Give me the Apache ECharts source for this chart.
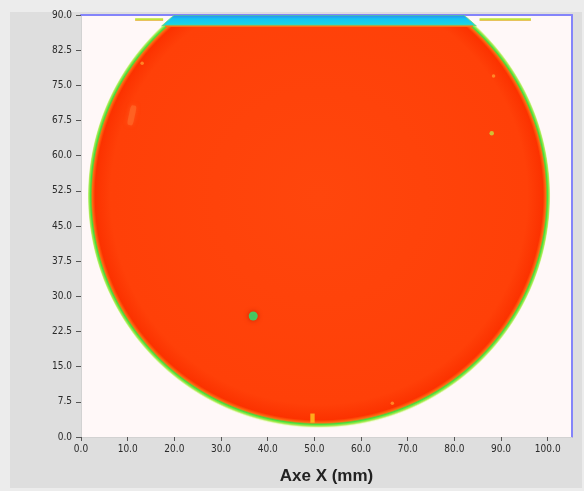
<!DOCTYPE html>
<html>
<head>
<meta charset="utf-8">
<script src="https://cdn.jsdelivr.net/npm/echarts@6/dist/echarts.min.js"></script>
<style>
  html, body { margin: 0; padding: 0; background: #ececec; }
  #chart { width: 584px; height: 491px; }
</style>
</head>
<body>
<div id="chart"></div>
<script>
// Wafer map geometry (mm)
const waferCenter = [51.0, 51.4];
const waferRadius = 49.5;
const flatY = 87.6;          // primary flat position
const mapTop = 90.0;         // upper limit of the scanned area

// Axis ranges and tick steps (mm)
const xRange = [0, 105.2];
const yRange = [0, 90];
const xStep = 10;
const yStep = 7.5;

// Thin marks on either side of the flat: [x0, x1, y]
const flatMarks = [
  [11.6, 17.6, 89.1],
  [85.4, 96.4, 89.1]
];

// Local defects: [x, y]
const defectGreen = [[36.9, 25.8]];
const defectBottom = [[49.6, 4.0]];
const defectStreak = [[10.9, 68.6]];
const defectSpecks = [[13.1, 79.7], [88.4, 77.0], [66.7, 7.2]];
const defectSpeckGreen = [[88.0, 64.8]];

const chart = echarts.init(document.getElementById('chart'));

function circleX(y, side) {
  const dy = y - waferCenter[1];
  return waferCenter[0] + side * Math.sqrt(Math.max(0, waferRadius * waferRadius - dy * dy));
}

function renderWafer(params, api) {
  const cx = api.value(0), cy = api.value(1), r = api.value(2), fy = api.value(3);
  const c = api.coord([cx, cy]);
  const rPx = api.size([r, r]);
  const rad = (rPx[0] + rPx[1]) / 2;

  // body: circle cut by the flat
  const body = [];
  for (let i = 0; i <= 360; i++) {
    const a = i * Math.PI / 180;
    const y = Math.min(cy + r * Math.sin(a), fy);
    body.push(api.coord([cx + r * Math.cos(a), y]));
  }
  // band between the flat and the top of the scan
  const band = [];
  const n = 24;
  for (let i = 0; i <= n; i++) {
    const y = fy + (mapTop - fy) * i / n;
    band.push(api.coord([circleX(y, -1), y]));
  }
  for (let i = n; i >= 0; i--) {
    const y = fy + (mapTop - fy) * i / n;
    band.push(api.coord([circleX(y, 1), y]));
  }
  const pTop = api.coord([cx, mapTop]);
  const pFlat = api.coord([cx, fy]);

  return {
    type: 'group',
    children: [
      {
        type: 'polygon',
        shape: { points: band },
        style: {
          fill: {
            type: 'linear', x: 0, y: pTop[1], x2: 0, y2: pFlat[1], global: true,
            colorStops: [
              { offset: 0, color: '#2f86f2' },
              { offset: 0.35, color: '#14c4f2' },
              { offset: 0.8, color: '#1ad2e6' },
              { offset: 1, color: '#5ede6a' }
            ]
          },
          stroke: '#6ee070', lineWidth: 1
        }
      },
      {
        type: 'polygon',
        shape: { points: body },
        style: {
          fill: {
            type: 'radial', x: c[0], y: c[1], r: rad, global: true,
            colorStops: [
              { offset: 0, color: '#ff460c' },
              { offset: 0.9, color: '#ff4008' },
              { offset: 0.967, color: '#fc3200' },
              { offset: 0.979, color: '#ff6a10' },
              { offset: 0.986, color: '#40e03c' },
              { offset: 0.994, color: '#a8ea50' },
              { offset: 1, color: '#f4fad8' }
            ]
          }
        }
      },
      {
        type: 'line',
        shape: {
          x1: api.coord([circleX(fy, -1) + 0.8, fy])[0], y1: pFlat[1],
          x2: api.coord([circleX(fy, 1) - 0.8, fy])[0], y2: pFlat[1]
        },
        style: { stroke: '#ff7014', lineWidth: 1.5 }
      }
    ]
  };
}

function renderFlatMark(params, api) {
  const a = api.coord([api.value(0), api.value(2)]);
  const b = api.coord([api.value(1), api.value(2)]);
  return {
    type: 'group',
    children: [
      { type: 'line', shape: { x1: a[0], y1: a[1] + 1, x2: b[0], y2: b[1] + 1 },
        style: { stroke: '#f0a030', lineWidth: 1 } },
      { type: 'line', shape: { x1: a[0], y1: a[1], x2: b[0], y2: b[1] },
        style: { stroke: '#bfe43a', lineWidth: 2 } }
    ]
  };
}

const labelFont = '"Liberation Sans Narrow", "DejaVu Sans Condensed", "Liberation Sans", sans-serif';

chart.setOption({
  backgroundColor: '#ececec',
  animation: false,
  graphic: [{
    type: 'rect', z: -10, silent: true,
    shape: { x: 10, y: 12, width: 572, height: 476 },
    style: { fill: '#dedede' }
  }],
  grid: {
    left: 81, right: 12, top: 15, bottom: 54,
    show: true, backgroundColor: '#fff8f8', borderWidth: 0
  },
  xAxis: [{
    type: 'value', min: xRange[0], max: xRange[1], interval: xStep,
    name: 'Axe X (mm)', nameLocation: 'middle', nameGap: 31,
    nameTextStyle: { fontFamily: 'Liberation Sans, Arial, sans-serif', fontWeight: 'bold', fontSize: 17, color: '#222' },
    axisLine: { show: true, onZero: false, lineStyle: { color: '#d2d2d2', width: 1 } },
    axisTick: { show: true, length: 4, lineStyle: { color: '#555' } },
    axisLabel: { margin: 7, fontFamily: labelFont, fontSize: 10, color: '#2a2a2a',
      formatter: v => v.toFixed(1) },
    splitLine: { show: false }
  }, {
    type: 'value', position: 'top', min: xRange[0], max: xRange[1],
    axisLine: { show: true, onZero: false, lineStyle: { color: '#8484fa', width: 2 } },
    axisTick: { show: false }, axisLabel: { show: false }, splitLine: { show: false }
  }],
  yAxis: [{
    type: 'value', min: yRange[0], max: yRange[1], interval: yStep,
    axisLine: { show: true, onZero: false, lineStyle: { color: '#d2d2d2', width: 1 } },
    axisTick: { show: true, length: 5, lineStyle: { color: '#555' } },
    axisLabel: { margin: 9, fontFamily: labelFont, fontSize: 10, color: '#2a2a2a',
      formatter: v => v.toFixed(1) },
    splitLine: { show: false }
  }, {
    type: 'value', position: 'right', min: yRange[0], max: yRange[1],
    axisLine: { show: true, onZero: false, lineStyle: { color: '#8484fa', width: 2 } },
    axisTick: { show: false }, axisLabel: { show: false }, splitLine: { show: false }
  }],
  series: [
    {
      type: 'custom', name: 'wafer', clip: true,
      renderItem: renderWafer,
      data: [[waferCenter[0], waferCenter[1], waferRadius, flatY]],
      z: 1
    },
    {
      type: 'custom', name: 'flat marks', clip: true,
      renderItem: renderFlatMark,
      data: flatMarks,
      z: 2
    },
    {
      type: 'scatter', data: defectStreak, symbol: 'roundRect',
      symbolSize: [6, 20], symbolRotate: -12, z: 3,
      itemStyle: { color: '#ff6a28', opacity: 0.7, shadowBlur: 4, shadowColor: '#ff5a20' }
    },
    {
      type: 'scatter', data: defectGreen, symbol: 'circle', symbolSize: 9, z: 3,
      itemStyle: { color: '#22ee78', borderWidth: 0, shadowBlur: 5, shadowColor: '#b81c00' }
    },
    {
      type: 'scatter', data: defectBottom, symbol: 'rect', symbolSize: [4, 9], z: 3,
      itemStyle: { color: '#ffc820', borderColor: '#ff9a20', borderWidth: 0.5 }
    },
    {
      type: 'scatter', data: defectSpecks, symbol: 'circle', symbolSize: 3.5, z: 3,
      itemStyle: { color: '#ff9a30' }
    },
    {
      type: 'scatter', data: defectSpeckGreen, symbol: 'circle', symbolSize: 4.5, z: 3,
      itemStyle: { color: '#c4e040' }
    }
  ]
});
</script>
</body>
</html>
